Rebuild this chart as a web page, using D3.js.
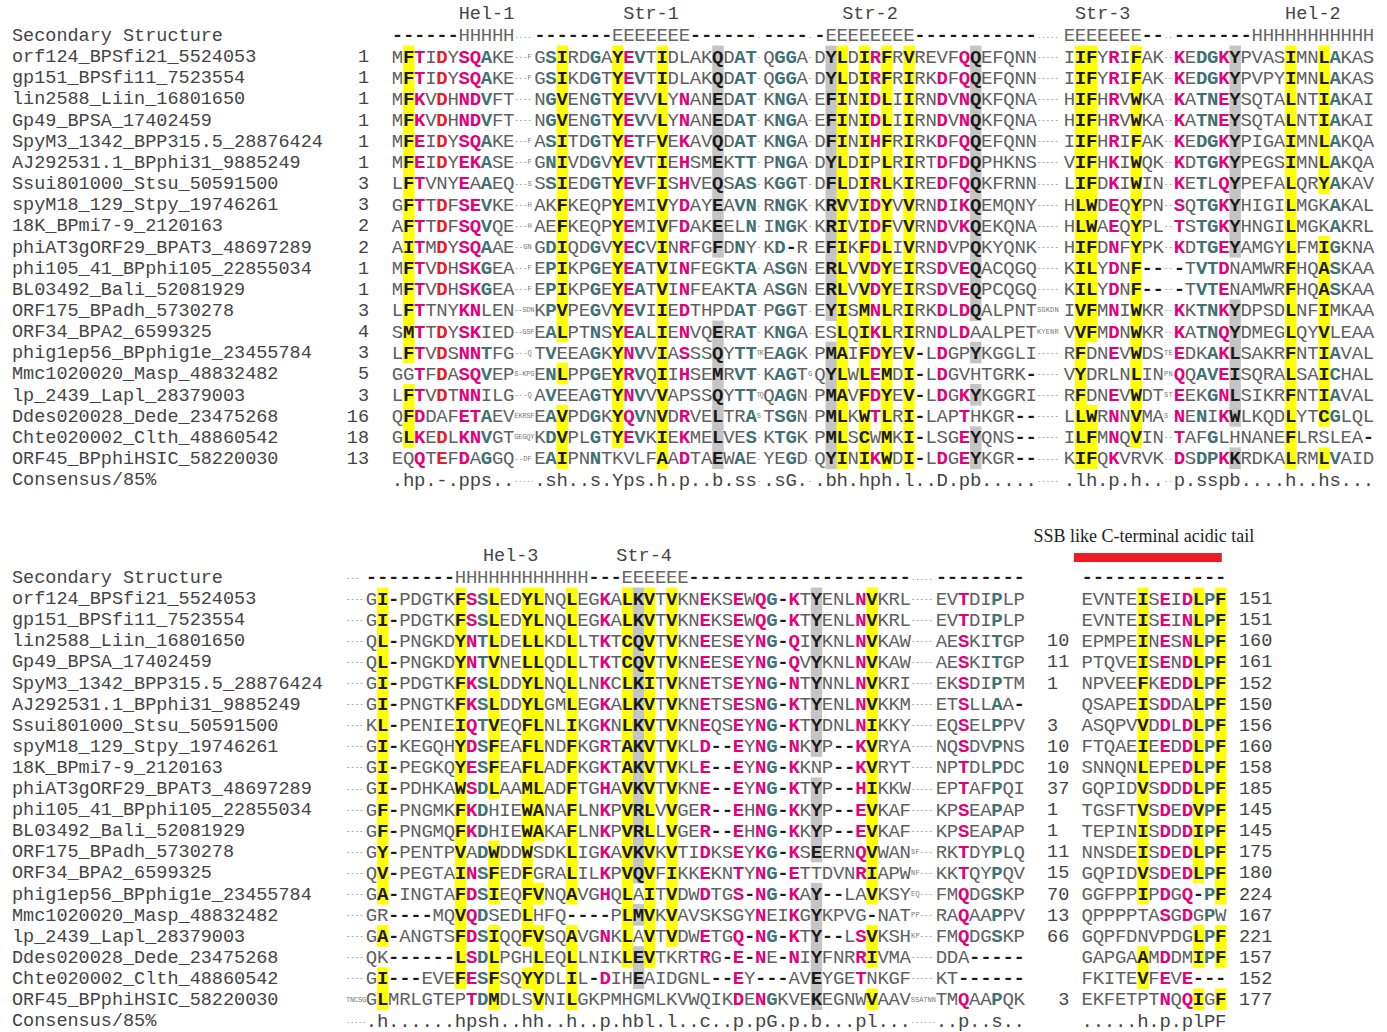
<!DOCTYPE html>
<html>
<head>
<meta charset="utf-8">
<script src="https://cdn.jsdelivr.net/npm/d3@7"></script>
<style>
body { margin: 0; background: #fff; }
svg text { font-family: "Liberation Mono", "DejaVu Sans Mono", monospace; }
svg text.serif { font-family: "Liberation Serif", "DejaVu Serif", serif; }
</style>
</head>
<body>
<div id="chart"></div>
<script>
// ---- data ---------------------------------------------------------------
// segments separated by "|" : full-size columns and compressed insert columns alternate
var names = ["orf124_BPSfi21_5524053", "gp151_BPSfi11_7523554", "lin2588_Liin_16801650", "Gp49_BPSA_17402459",
    "SpyM3_1342_BPP315.5_28876424", "AJ292531.1_BPphi31_9885249", "Ssui801000_Stsu_50591500", "spyM18_129_Stpy_19746261",
    "18K_BPmi7-9_2120163", "phiAT3gORF29_BPAT3_48697289", "phi105_41_BPphi105_22855034", "BL03492_Bali_52081929",
    "ORF175_BPadh_5730278", "ORF34_BPA2_6599325", "phig1ep56_BPphig1e_23455784", "Mmc1020020_Masp_48832482",
    "lp_2439_Lapl_28379003", "Ddes020028_Dede_23475268", "Chte020002_Clth_48860542", "ORF45_BPphiHSIC_58220030"];

var topStarts = ["1", "1", "1", "1", "1", "1", "3", "3", "2", "2", "1", "1", "3", "4", "3", "5", "3", "16", "18", "13"];

var topSeqs = [
    "MFTIDYSQAKE|---F|GSIRDGAYEVTIDLAKQDAT|-|QGGA|-|DYLDIRFRVREVFQQEFQNN|-----|IIFYRIFAK|--|KEDGKYPVASIMNLAKAS",
    "MFTIDYSQAKE|---F|GSIKDGTYEVTIDLAKQDAT|-|QGGA|-|DYLDIRFRIRKDFQQEFQNN|-----|IIFYRIFAK|--|KEDGKYPVPYIMNLAKAS",
    "MFKVDHNDVFT|----|NGVENGTYEVVLYNANEDAT|-|KNGA|-|EFINIDLIIRNDVNQKFQNA|-----|HIFHRVWKA|--|KATNEYSQTALNTIAKAI",
    "MFKVDHNDVFT|----|NGVENGTYEVVLYNANEDAT|-|KNGA|-|EFINIDLIIRNDVNQKFQNA|-----|HIFHRVWKA|--|KATNEYSQTALNTIAKAI",
    "MFEIDYSQAKE|---F|ASITDGTYETFVEKAVQDAT|-|KNGA|-|DFINIHFRIRKDFQQEFQNN|-----|IIFHRIFAK|--|KEDGKYPIGAIMNLAKQA",
    "MFEIDYEKASE|---F|GNIVDGVYEVTIEHSMEKTT|-|PNGA|-|DYLDIPLRIRTDFDQPHKNS|-----|VIFHKIWQK|--|KDTGKYPEGSIMNLAKQA",
    "LFTVNYEAAEQ|---S|SSIEDGTYEVFISHVEQSAS|-|KGGT|-|DFLDIRLKIREDFQQKFRNN|-----|LIFDKIWIN|--|KETLQYPEFALQRYAKAV",
    "GFTTDFSEVKE|---H|AKFKEQPYEMIVYDAYEAVN|.|RNGK|-|KRVVIDYVVRNDIKQEMQNY|-----|HLWDEQYPN|--|SQTGKYHIGILMGKAKAL",
    "AFTTDFSQVQE|---H|AEFKEQPYEMIVFDAKEELN|-|INGK|-|KRIVIDFVVRNDVKQEKQNA|-----|HLWAEQYPL|--|TSTGKYHNGILMGKAKRL",
    "AITMDYSQAAE|--GN|GDIQDGVYECVINRFGFDNY|-|KD-R|.|EFIKFDLIVRNDVPQKYQNK|-----|HIFDNFYPK|--|KDTGEYAMGYLFMIGKNA",
    "MFTVDHSKGEA|---F|EPIKPGEYEATVINFEGKTA|-|ASGN|.|ERLVVDYEIRSDVEQACQGQ|-----|KILYDNF--|--|-TVTDNAMWRFHQASKAA",
    "MFTVDHSKGEA|---F|EPIKPGEYEATVINFEAKTA|-|ASGN|.|ERLVVDYEIRSDVEQPCQGQ|-----|KILYDNF--|--|-TVTENAMWRFHQASKAA",
    "LFTTNYKNLEN|--SDN|KPVPEGVYEVIIEDTHPDAT|-|PGGT|.|EYISMNLRIRKDLDQALPNT|SGKDN|IVFMNIWKR|--|KKTNKYDPSDLNFIMKAA",
    "SMTTDYSKIED|--GSF|EALPTNSYEALIENVQERAT|-|KNGA|.|ESLQIKLRIRNDLDAALPET|KYENR|VVFMDNWKR|--|KATNQYDMEGLQYVLEAA",
    "LFTVDSNNTFG|---Q|TVEEAGKYNVVIASSSQYTT|TK|EAGK|.|PMAIFDYEV-LDGPYKGGLI|-----|RFDNEVWDS|TE|EDKAKLSAKRFNTIAVAL",
    "GGTFDASQVEP|S-KPG|ENLPPGEYRVQIIHSEMRVT|-|KAGT|G|QYLWLEMDI-LDGVHTGRK-|-----|VYDRLNLIN|PN|QQAVEISQRALSAICHAL",
    "LFTVDTNNILG|---Q|AVEEAGTYNVVVAPSSQYTT|TQ|QAGN|.|PMAVFDYEV-LDGKYKGGRI|-----|RFDNEVWDT|ST|EEKGNLSIKRFNTIAVAL",
    "QFDDAFETAEV|EKRSF|EAVPDGKYQVNVDRVELTRA|S|TSGN|.|PMLKWTLRI-LAPTHKGR--|-----|LLWRNNVMA|S|NENIKWLKQDLYTCGLQL",
    "GLKEDLKNVGT|GEGQY|KDVPLGTYEVKIEKMELVES|-|KTGK|.|PMLSCWMKI-LSGEYQNS--|-----|ILFMNQVIN|--|TAFGLHNANEFLRSLEA-",
    "EQQTEFDAGGQ|--DF|EAIPNNTKVLFAADTAEWAE|-|YEGD|.|QYINIKWDI-LDGEYKGR--|-----|KIFQKVRVK|--|DSDPKKRDKALRMLVAID"
];
var topSS = "------HHHHH|....|-------EEEEEEE------|.|----|.|-EEEEEEEE-----------|.....|EEEEEEE--|..|-------HHHHHHHHHHH";
var topCons = ".hp.-.pps..|.....|.sh..s.Yps.h.p..b.ss|.|.sG.|.|.bh.hph.l..D.pb.....|.....|.lh.p.h..|..|p.sspb....h..hs...";
var topLabels = ["Hel-1", "Str-1", "Str-2", "Str-3", "Hel-2"];

var botSeqs = [
    "----|GI-PDGTKFSSLEDYLNQLEGKALKVTVKNEKSEWQG-KTYENLNVKRL|-----|EVTDIPLP",
    "----|GI-PDGTKFSSLEDYLNQLEGKALKVTVKNEKSEWQG-KTYENLNVKRL|-----|EVTDIPLP",
    "----|QL-PNGKDYNTLDELLKDLLTKTCQVTVKNEESEYNG-QIYKNLNVKAW|-----|AESKITGP",
    "----|QL-PNGKDYNTVNELLQDLLTKTCQVTVKNEESEYNG-QVYKNLNVKAW|-----|AESKITGP",
    "----|GI-PDGTKFKSLDDYLNQLLNKCLKITVKNETSEYNG-NTYNNLNVKRI|-----|EKSDIPTM",
    "----|GI-PNGTKFKSLDDYLGMLEGKALKVTVKNETSESNG-KTYENLNVKKM|-----|ETSLLAA-",
    "----|KL-PENIEIQTVEQFLNLIKGKNLKVTVKNEQSEYNG-KTYDNLNIKKY|-----|EQSELPPV",
    "----|GI-KEGQHYDSFEAFLNDFKGRTAKVTVKLD--EYNG-NKYP--KVRYA|-----|NQSDVPNS",
    "----|GI-PEGKQYESFEAFLADFKGKTAKVTVKLE--EYNG-KKNP--KVRYT|-----|NPTDLPDC",
    "----|GI-PDHKAWSDLAAMLADFTGHAVKVTVKNE--EYNG-KTYP--HIKKW|-----|EPTAFPQI",
    "----|GF-PNGMKFKDHIEWANAFLNKPVRLVVGER--EHNG-KKYP--EVKAF|-----|KPSEAPAP",
    "----|GF-PNGMQFKDHIEWAKAFLNKPVRLLVGER--EHNG-KKYP--EVKAF|-----|KPSEAPAP",
    "----|GY-PENTPVADWDDWSDKLIGKAVKVKVTIDKSEYKG-KSEERNQVWAN|SF---|RKTDYPLQ",
    "----|QV-PEGTAINSFEDFGRALILKPVQVFIKKEKNTYNG-ETTDVNRIAPW|NF---|KKTQYPQV",
    "----|GA-INGTAFDSIEQFVNQAVGHQLAITVDWDTGS-NG-KAY--LAVKSY|EQ---|FMQDGSKP",
    "----|GR----MQVQDSEDLHFQ----PLMVKVAVSKSGYNEIKGYKPVG-NAT|PP---|RAQAAPPV",
    "----|GA-ANGTSFDSIQQFVSQAVGNKLAVTVDWETGQ-NG-KTY--LSVKSH|KP---|FMQDGSKP",
    "----|QK------LSDLPGHLEQLLNIKLEVTKRTRG-E-NE-NIYFNRRIVMA|-----|DDA-----",
    "----|GI---EVEFESFSQYYDLIL-DIHEAIDGNL--EY---AVEYGETNKGF|-----|KT------",
    "TNCSG|GLMRLGTEPTDMDLSVNILGKPMHGMLKVWQIKDENGKVEKEGNWVAAV|SSATNN|TMQAAPQK"
];
var botCounts = ["", "", "10", "11", "1", "", "3", "10", "10", "37", "1", "1", "11", "15", "70", "13", "66", "", "", " 3"];
var botTails = ["EVNTEISEIDLPF", "EVNTEISEINLPF", "EPMPEINESNLPF", "PTQVEISENDLPF", "NPVEEFKEDDLPF", "QSAPEISDDALPF",
    "ASQPVVDDLDLPF", "FTQAEIEEDDLPF", "SNNQNLEPEDLPF", "GQPIDVSDDDLPF", "TGSFTVSDEDVPF", "TEPINISDDDIPF",
    "NNSDEISDEDLPF", "GQPIDVSDEDLPF", "GGFPPIPDGQ-PF", "QPPPPTASGDGPW", "GQPFDNVPDGLPF", "GAPGAAMDDMIPF",
    "FKITEVFEVE---", "EKFETPTNQQIGF"];
var botEnds = ["151", "151", "160", "161", "152", "150", "156", "160", "158", "185", "145", "145", "175", "180", "224", "167", "221", "157", "152", "177"];
var botSS = "---|--------HHHHHHHHHHHH---EEEEEE--------------------|.....|--------";
var botCons = ".....|.h......hpsh..hh..h..p.hbl.l..c..p.pG.p.b...pl...|......|..p..s..";
var botTailSS = "-------------";
var botTailCons = ".....h.p.plPF";
var botLabels = ["Hel-3", "Str-4"];
var tailTitle = "SSB like C-terminal acidic tail";

// ---- look ----------------------------------------------------------------
var W = 1387, H = 1032;
var cw = 11.12;
var YELLOW = "#ffff00", GREYBG = "#c4c4c4", MAG = "#e4007c", TEAL = "#3f7272", RED = "#e3202c";
var TXT = "#606060", DARK = "#1a1a1a", LABEL = "#444";

var sets = { h: "ACFILMVWY", l: "ILVFY", a: "FHWY", b: "EFIKLMQRWY", p: "CDEHKNQRST",
    c: "DEHKR", "-": "DE", "+": "HKR", s: "ACDGNPSTV" };

function residueStyle(ch, cons) {
    if (!cons || ch === "-" || ch === " ") return null;
    var cls = cons;
    if (/[A-Z]/.test(cons)) {
        if (ch !== cons) return null;
        cls = "FWYILMVC".indexOf(cons) >= 0 ? "h" : ("GPAST".indexOf(cons) >= 0 ? "s" : "p");
    } else if (!sets[cons] || sets[cons].indexOf(ch) < 0) {
        return null;
    }
    if (cls === "h" || cls === "l" || cls === "a") return { bg: YELLOW, fill: DARK };
    if (cls === "b") return { bg: GREYBG, fill: DARK };
    if (cls === "-") return { bg: null, fill: RED };
    if (cls === "s") return { bg: null, fill: TEAL };
    return { bg: null, fill: MAG };
}

var svg = d3.select("#chart").append("svg")
    .attr("width", W)
    .attr("height", H);

var bgLayer = svg.append("g");
var txLayer = svg.append("g");

function drawMain(str, consStr, sc, yc, step, kind) {
    var cells = str.split("").map(function (ch, k) {
        return { ch: ch, k: k, st: kind === "seq" ? residueStyle(ch, consStr[k]) : null };
    });

    bgLayer.append("g").selectAll("rect")
        .data(cells.filter(function (d) { return d.st && d.st.bg; }))
        .join("rect")
        .attr("x", function (d) { return sc(d.k); })
        .attr("y", yc - step / 2)
        .attr("width", cw + 0.3)
        .attr("height", step + 0.5)
        .attr("fill", function (d) { return d.st.bg; });

    txLayer.append("g").selectAll("text")
        .data(cells.filter(function (d) { return d.ch !== " "; }))
        .join("text")
        .attr("x", function (d) { return sc(d.k + 0.5); })
        .attr("y", yc + 6.4)
        .attr("text-anchor", "middle")
        .attr("font-size", 19)
        .attr("font-weight", function (d) {
            if (d.st) return 700;
            return (d.ch === "-" && kind !== "cons") ? 700 : 400;
        })
        .attr("fill", function (d) {
            if (d.st) return d.st.fill;
            if (kind === "cons") return LABEL;
            if (d.ch === "-") return DARK;
            return kind === "ss" ? "#666" : TXT;
        })
        .text(function (d) { return d.ch; });
}

function drawSmall(str, x0, w, yc) {
    var adv = Math.min(4.4, w / Math.max(1, str.length));
    txLayer.append("g").selectAll("text")
        .data(str.split(""))
        .join("text")
        .attr("x", function (d, i) { return x0 + (i + 0.5) * adv; })
        .attr("y", yc + 2.5)
        .attr("text-anchor", "middle")
        .attr("font-size", 7)
        .attr("fill", "#777")
        .text(function (d) { return d; });
}

function drawBlock(cfg) {
    var rows = [{ label: "Secondary Structure", segs: cfg.ss.split("|"), kind: "ss" }];
    cfg.seqs.forEach(function (s, i) {
        rows.push({ label: names[i], segs: s.split("|"), kind: "seq", idx: i });
    });
    rows.push({ label: "Consensus/85%", segs: cfg.cons.split("|"), kind: "cons" });

    var y = d3.scalePoint().domain(d3.range(rows.length)).range(cfg.yRange);
    var step = y.step();
    var consSegs = cfg.cons.split("|");

    // column layout of every segment
    var x = cfg.x0, gi = 0;
    var layout = rows[0].segs.map(function (s, i) {
        var small = cfg.firstSmall ? (i % 2 === 0) : (i % 2 === 1);
        var w = small ? cfg.gaps[gi++] : s.length * cw;
        var sc = d3.scaleLinear().domain([0, small ? 1 : s.length]).range([x, x + w]);
        x += w;
        return { small: small, sc: sc, w: w };
    });

    rows.forEach(function (r, ri) {
        var yc = y(ri);
        txLayer.append("text")
            .attr("x", 12).attr("y", yc + 6)
            .attr("font-size", 18.5).attr("fill", LABEL)
            .text(r.label);
        r.segs.forEach(function (s, si) {
            var L = layout[si];
            if (L.small) drawSmall(s, L.sc(0), L.w, yc);
            else drawMain(s, consSegs[si], L.sc, yc, step, r.kind);
        });
        if (cfg.rowExtra) cfg.rowExtra(r, yc, step);
    });

    // structure element names over runs of H / E
    var li = 0;
    rows[0].segs.forEach(function (s, si) {
        if (layout[si].small) return;
        var re = /H+|E+/g, m;
        while ((m = re.exec(s)) !== null) {
            var cx = layout[si].sc(m.index + m[0].length / 2) + cfg.labelShift;
            txLayer.append("text")
                .attr("x", cx).attr("y", y(0) - step + 5.5)
                .attr("text-anchor", "middle")
                .attr("font-size", 18.5).attr("fill", LABEL)
                .text(cfg.labels[li++]);
        }
    });
    return { y: y, step: step };
}

// ---- top block --------------------------------------------------------------
drawBlock({
    seqs: topSeqs, ss: topSS, cons: topCons, labels: topLabels,
    x0: 392, gaps: [20, 6.6, 6.6, 27, 10], firstSmall: false, labelShift: 0,
    yRange: [35, 35 + 21 * 21.15],
    rowExtra: function (r, yc) {
        if (r.kind !== "seq") return;
        txLayer.append("text")
            .attr("x", 369).attr("y", yc + 6)
            .attr("text-anchor", "end")
            .attr("font-size", 18.5).attr("fill", LABEL)
            .text(topStarts[r.idx]);
    }
});

// ---- bottom block -----------------------------------------------------------
var tailX = d3.scaleLinear().domain([0, botTailSS.length]).range([1081.7, 1081.7 + botTailSS.length * cw]);

var bot = drawBlock({
    seqs: botSeqs, ss: botSS, cons: botCons, labels: botLabels,
    x0: 346, gaps: [20, 25], firstSmall: true, labelShift: -11,
    yRange: [577, 577 + 21 * 21.1],
    rowExtra: function (r, yc, step) {
        if (r.kind === "ss") {
            drawMain(botTailSS, botTailSS, tailX, yc, step, "ss");
        } else if (r.kind === "cons") {
            drawMain(botTailCons, botTailCons, tailX, yc, step, "cons");
        } else {
            drawMain(botTails[r.idx], botTailCons, tailX, yc, step, "seq");
            txLayer.append("g").selectAll("text")
                .data(botCounts[r.idx].split(""))
                .join("text")
                .attr("x", function (d, i) { return 1047 + (i + 0.5) * cw; })
                .attr("y", yc + 6)
                .attr("text-anchor", "middle")
                .attr("font-size", 18.5).attr("fill", LABEL)
                .text(function (d) { return d === " " ? "" : d; });
            txLayer.append("text")
                .attr("x", 1239).attr("y", yc + 6)
                .attr("font-size", 18.5).attr("fill", LABEL)
                .text(botEnds[r.idx]);
        }
    }
});

// acidic tail annotation
var ssY = bot.y(0);
svg.append("rect")
    .attr("x", tailX(-0.7))
    .attr("y", ssY - 24)
    .attr("width", tailX(12.6) - tailX(-0.7))
    .attr("height", 9)
    .attr("fill", "#ed1c24");
svg.append("text")
    .attr("class", "serif")
    .attr("x", (tailX(-0.7) + tailX(12.6)) / 2 - 4)
    .attr("y", ssY - 35)
    .attr("text-anchor", "middle")
    .attr("font-size", 18)
    .attr("fill", "#222")
    .text(tailTitle);
</script>
</body>
</html>
